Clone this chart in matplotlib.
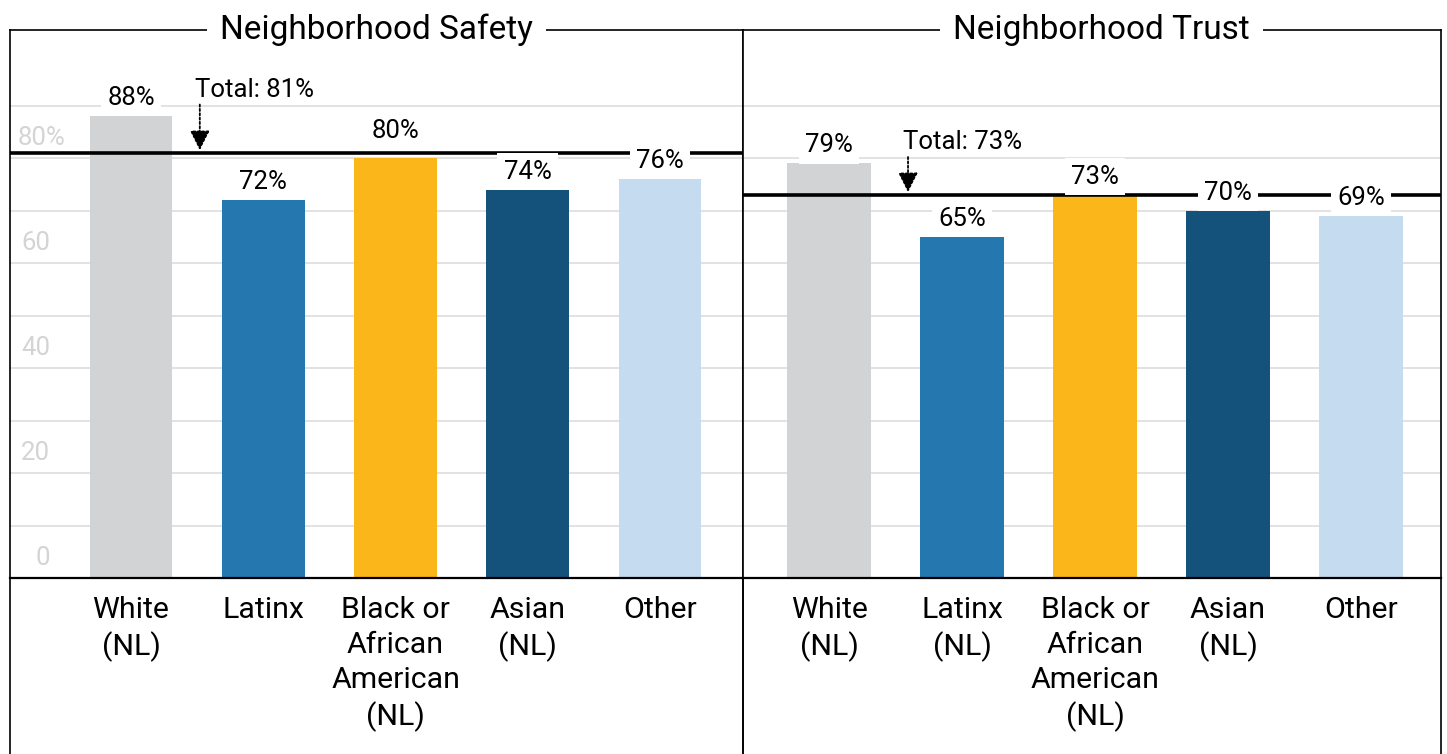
import numpy as np
import matplotlib.pyplot as plt
from matplotlib.lines import Line2D

plt.rcParams['font.family'] = ['Roboto', 'DejaVu Sans']

# survey results by race/ethnicity
groups_safety = ['White\n(NL)', 'Latinx', 'Black or\nAfrican\nAmerican\n(NL)', 'Asian\n(NL)', 'Other']
groups_trust = ['White\n(NL)', 'Latinx\n(NL)', 'Black or\nAfrican\nAmerican\n(NL)', 'Asian\n(NL)', 'Other']
safety = [88, 72, 80, 74, 76]
trust = [79, 65, 73, 70, 69]
safety_total = 81
trust_total = 73
titles = ['Neighborhood Safety', 'Neighborhood Trust']
bar_colors = ['#d1d3d4', '#2577b0', '#fbb61a', '#14527c', '#c5dbef']
ytick_vals = [0, 20, 40, 60, 80]
ytick_labels = ['0', '20', '40', '60', '80%']

W, H = 1447, 754
fig = plt.figure(figsize=(W / 100, H / 100), dpi=100)


def add_panel(x0, x1, y_top, y_bot):
    # axes placed in pixel units
    return fig.add_axes([x0 / W, 1 - y_bot / H, (x1 - x0) / W, (y_bot - y_top) / H])


panels = [
    dict(box=(10, 743), xlim=(-0.915, 4.627), labels=groups_safety, values=safety,
         total=safety_total, title=titles[0], title_x=0.5, arrow_x=0.52, text_rise=12,
         yticks=True),
    dict(box=(743, 1441), xlim=(-0.647, 4.602), labels=groups_trust, values=trust,
         total=trust_total, title=titles[1], title_x=0.514, arrow_x=0.594, text_rise=10,
         yticks=False),
]

small = 18.5

for p in panels:
    ax = add_panel(p['box'][0], p['box'][1], 30, 578)
    x = np.arange(len(p['values']))
    ax.bar(x, p['values'], width=0.625, color=bar_colors, zorder=2)
    ax.set_xlim(*p['xlim'])
    ax.set_ylim(0, 104.4)

    # gridlines every 10 points
    ax.set_yticks(np.arange(0, 91, 10))
    ax.yaxis.grid(True, color='#dadada', lw=1.1)
    ax.set_axisbelow(True)
    ax.tick_params(axis='y', length=0, labelleft=False)

    ax.set_xticks(x)
    ax.set_xticklabels(p['labels'], fontsize=21.8, linespacing=1.32)
    ax.tick_params(axis='x', length=0, pad=13)

    for side in ['left', 'right', 'top']:
        ax.spines[side].set_linewidth(1.2)
    ax.spines['bottom'].set_linewidth(1.6)

    # light axis labels inside the frame
    if p['yticks']:
        for v, lab in zip(ytick_vals, ytick_labels):
            dx = 40 if not lab.endswith('%') else 55
            ax.annotate(lab, (0, v), xycoords=('axes fraction', 'data'),
                        xytext=(dx * 0.72, 5.5), textcoords='offset points',
                        ha='right', va='bottom', fontsize=small, color='#d4d4d4', zorder=1)

    # overall average line with callout
    t = p['total']
    ax.axhline(t, color='black', lw=2.6, zorder=3)
    ax.annotate('', xy=(p['arrow_x'], t + 0.5), xytext=(p['arrow_x'], t + p['text_rise'] - 2.8),
                arrowprops=dict(arrowstyle='-|>', color='black', lw=1.3, ls=(0, (1.2, 1.2)),
                                mutation_scale=30, shrinkA=0, shrinkB=0), zorder=4)
    ax.text(p['arrow_x'] - 0.04, t + p['text_rise'], f'Total: {t}%', ha='left', va='center',
            fontsize=small, zorder=4)

    for xi, v in zip(x, p['values']):
        # a bar ending just under the total line gets its label lifted above the line
        anchor = t + 0.7 if 0 < t - v < 2 else v
        ax.annotate(f'{v}%', (xi, anchor), xytext=(0, 13), textcoords='offset points',
                    ha='center', va='center', fontsize=small, zorder=5,
                    bbox=dict(boxstyle='square,pad=0.25', fc='white', ec='none'))

    ax.text(p['title_x'], 1.0, p['title'], transform=ax.transAxes, ha='center', va='center',
            fontsize=24, zorder=6,
            bbox=dict(boxstyle='square,pad=0.4', fc='white', ec='none'))

    # frame sides continue down past the baseline
    pos = ax.get_position()
    for fx in (pos.x0, pos.x1):
        fig.add_artist(Line2D([fx, fx], [0, pos.y0], transform=fig.transFigure,
                              color='black', lw=1.2))

fig.savefig('out.png', dpi=100, facecolor='white')
